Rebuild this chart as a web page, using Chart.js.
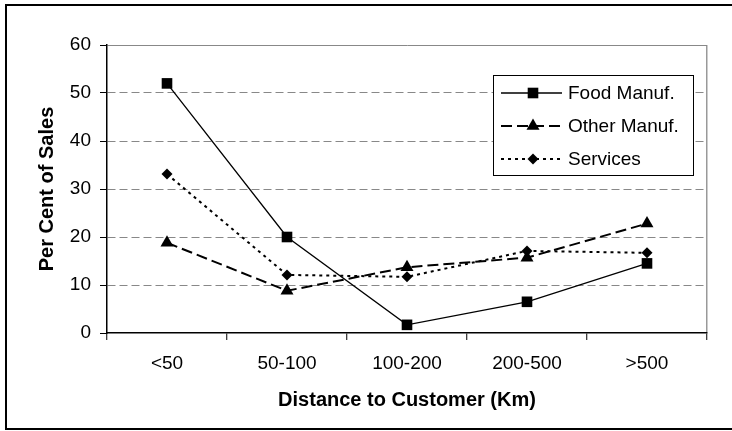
<!DOCTYPE html>
<html>
<head>
<meta charset="utf-8">
<script src="https://cdn.jsdelivr.net/npm/chart.js@4.4.0/dist/chart.umd.min.js"></script>
<style>
  body { margin: 0; background: #fff; }
  #caja { position: relative; width: 732px; height: 431px; overflow: hidden; }
  #marco { position: absolute; left: 5px; top: 4px; width: 800px; height: 422px; border: 2px solid #000; }
  #grafica { position: absolute; left: 0; top: 0; }
</style>
</head>
<body>
<div id="caja">
  <div id="marco"></div>
  <canvas id="grafica" width="732" height="431"></canvas>
</div>
<script>
// datos
const categorias = ['<50', '50-100', '100-200', '200-500', '>500'];
const nombres = ['Food Manuf.', 'Other Manuf.', 'Services'];
const alimentos = [52, 20, 1.7, 6.5, 14.5];
const otrasManuf = [18.8, 8.8, 13.7, 15.7, 22.8];
const servicios = [33.1, 12.1, 11.7, 17.1, 16.7];
const marcasY = [0, 10, 20, 30, 40, 50, 60];

const fuente = '"Liberation Sans", Arial, sans-serif';
Chart.defaults.font.family = fuente;
Chart.defaults.color = '#000';

function dibujarMarca(ctx, estilo, r, x, y) {
    ctx.beginPath();
    if (estilo === 'rect') {
        const s = Math.SQRT1_2 * r;
        ctx.rect(x - s, y - s, 2 * s, 2 * s);
    } else if (estilo === 'triangle') {
        ctx.moveTo(x, y - r);
        ctx.lineTo(x + r * Math.sin(2 * Math.PI / 3), y - r * Math.cos(2 * Math.PI / 3));
        ctx.lineTo(x + r * Math.sin(4 * Math.PI / 3), y - r * Math.cos(4 * Math.PI / 3));
        ctx.closePath();
    } else {
        ctx.moveTo(x, y - r);
        ctx.lineTo(x + r, y);
        ctx.lineTo(x, y + r);
        ctx.lineTo(x - r, y);
        ctx.closePath();
    }
    ctx.fillStyle = '#000';
    ctx.fill();
}

// leyenda con linea + marca, como la de Excel
const leyenda = {
    id: 'leyenda',
    afterDatasetsDraw(chart) {
        const { ctx, chartArea } = chart;
        const x0 = chartArea.right - 214;
        const y0 = chartArea.top + 30;
        ctx.save();
        ctx.fillStyle = '#fff';
        ctx.fillRect(x0, y0, 200, 100);
        ctx.strokeStyle = '#000';
        ctx.lineWidth = 1;
        ctx.setLineDash([]);
        ctx.strokeRect(x0 + 0.5, y0 + 0.5, 200, 100);
        chart.data.datasets.forEach((ds, i) => {
            const y = y0 + 18 + i * 33;
            ctx.strokeStyle = ds.borderColor;
            ctx.lineWidth = ds.borderWidth;
            ctx.setLineDash(ds.borderDash || []);
            ctx.beginPath();
            ctx.moveTo(x0 + 8, y);
            ctx.lineTo(x0 + 69, y);
            ctx.stroke();
            ctx.setLineDash([]);
            dibujarMarca(ctx, ds.pointStyle, ds.pointRadius, x0 + 40, y);
            ctx.fillStyle = '#000';
            ctx.font = '19px ' + fuente;
            ctx.textBaseline = 'middle';
            ctx.textAlign = 'left';
            ctx.fillText(ds.label, x0 + 75, y + 1);
        });
        ctx.restore();
    }
};

const data = {
    labels: categorias,
    datasets: [{
        label: nombres[0],
        data: alimentos,
        borderColor: '#000',
        backgroundColor: '#000',
        borderWidth: 1.3,
        pointStyle: 'rect',
        pointRadius: 7.5,
        pointBorderWidth: 0
    }, {
        label: nombres[1],
        data: otrasManuf,
        borderColor: '#000',
        backgroundColor: '#000',
        borderWidth: 2,
        borderDash: [11, 5],
        pointStyle: 'triangle',
        pointRadius: 7.5,
        pointBorderWidth: 0
    }, {
        label: nombres[2],
        data: servicios,
        borderColor: '#000',
        backgroundColor: '#000',
        borderWidth: 2,
        borderDash: [3, 4],
        pointStyle: 'rectRot',
        pointRadius: 5.5,
        pointBorderWidth: 0
    }]
};

const config = {
    type: 'line',
    data: data,
    plugins: [leyenda],
    options: {
        responsive: false,
        animation: false,
        clip: false,
        layout: { padding: { top: 45, right: 25, left: 0, bottom: 0 } },
        elements: { line: { tension: 0 } },
        plugins: {
            legend: { display: false },
            tooltip: { enabled: false }
        },
        scales: {
            x: {
                type: 'category',
                offset: true,
                grid: {
                    offset: true,
                    color: (c) => c.type === 'scale' ? '#999' : 'rgba(0,0,0,0)',
                    lineWidth: 1.5,
                    tickColor: '#000',
                    tickWidth: 1,
                    tickLength: 7
                },
                border: { color: '#000', width: 1.5 },
                ticks: { font: { size: 19 }, padding: 12, maxRotation: 0, autoSkip: false },
                title: {
                    display: true,
                    text: 'Distance to Customer (Km)',
                    font: { size: 20, weight: 'bold' },
                    padding: { top: 0, bottom: 19 }
                },
                afterFit: (s) => { s.height = 98; }
            },
            y: {
                min: marcasY[0],
                max: marcasY[marcasY.length - 1],
                afterBuildTicks: (s) => { s.ticks = marcasY.map((v) => ({ value: v })); },
                grid: {
                    color: (c) => (c.tick && c.tick.value > 0) ? '#888' : 'rgba(0,0,0,0)',
                    lineWidth: 1,
                    tickColor: '#000',
                    tickLength: 7
                },
                border: {
                    color: '#000',
                    width: 1.5,
                    dash: (c) => (c.tick && c.tick.value > 0 && c.tick.value < 60) ? [8, 4] : []
                },
                ticks: { font: { size: 19 }, padding: 9 },
                title: {
                    display: true,
                    text: 'Per Cent of Sales',
                    font: { size: 20, weight: 'bold' },
                    padding: { top: 35, bottom: 0 }
                },
                afterFit: (s) => { s.width = 107; }
            }
        }
    }
};

const graficoLineas = new Chart(document.getElementById('grafica'), config);
</script>
</body>
</html>
